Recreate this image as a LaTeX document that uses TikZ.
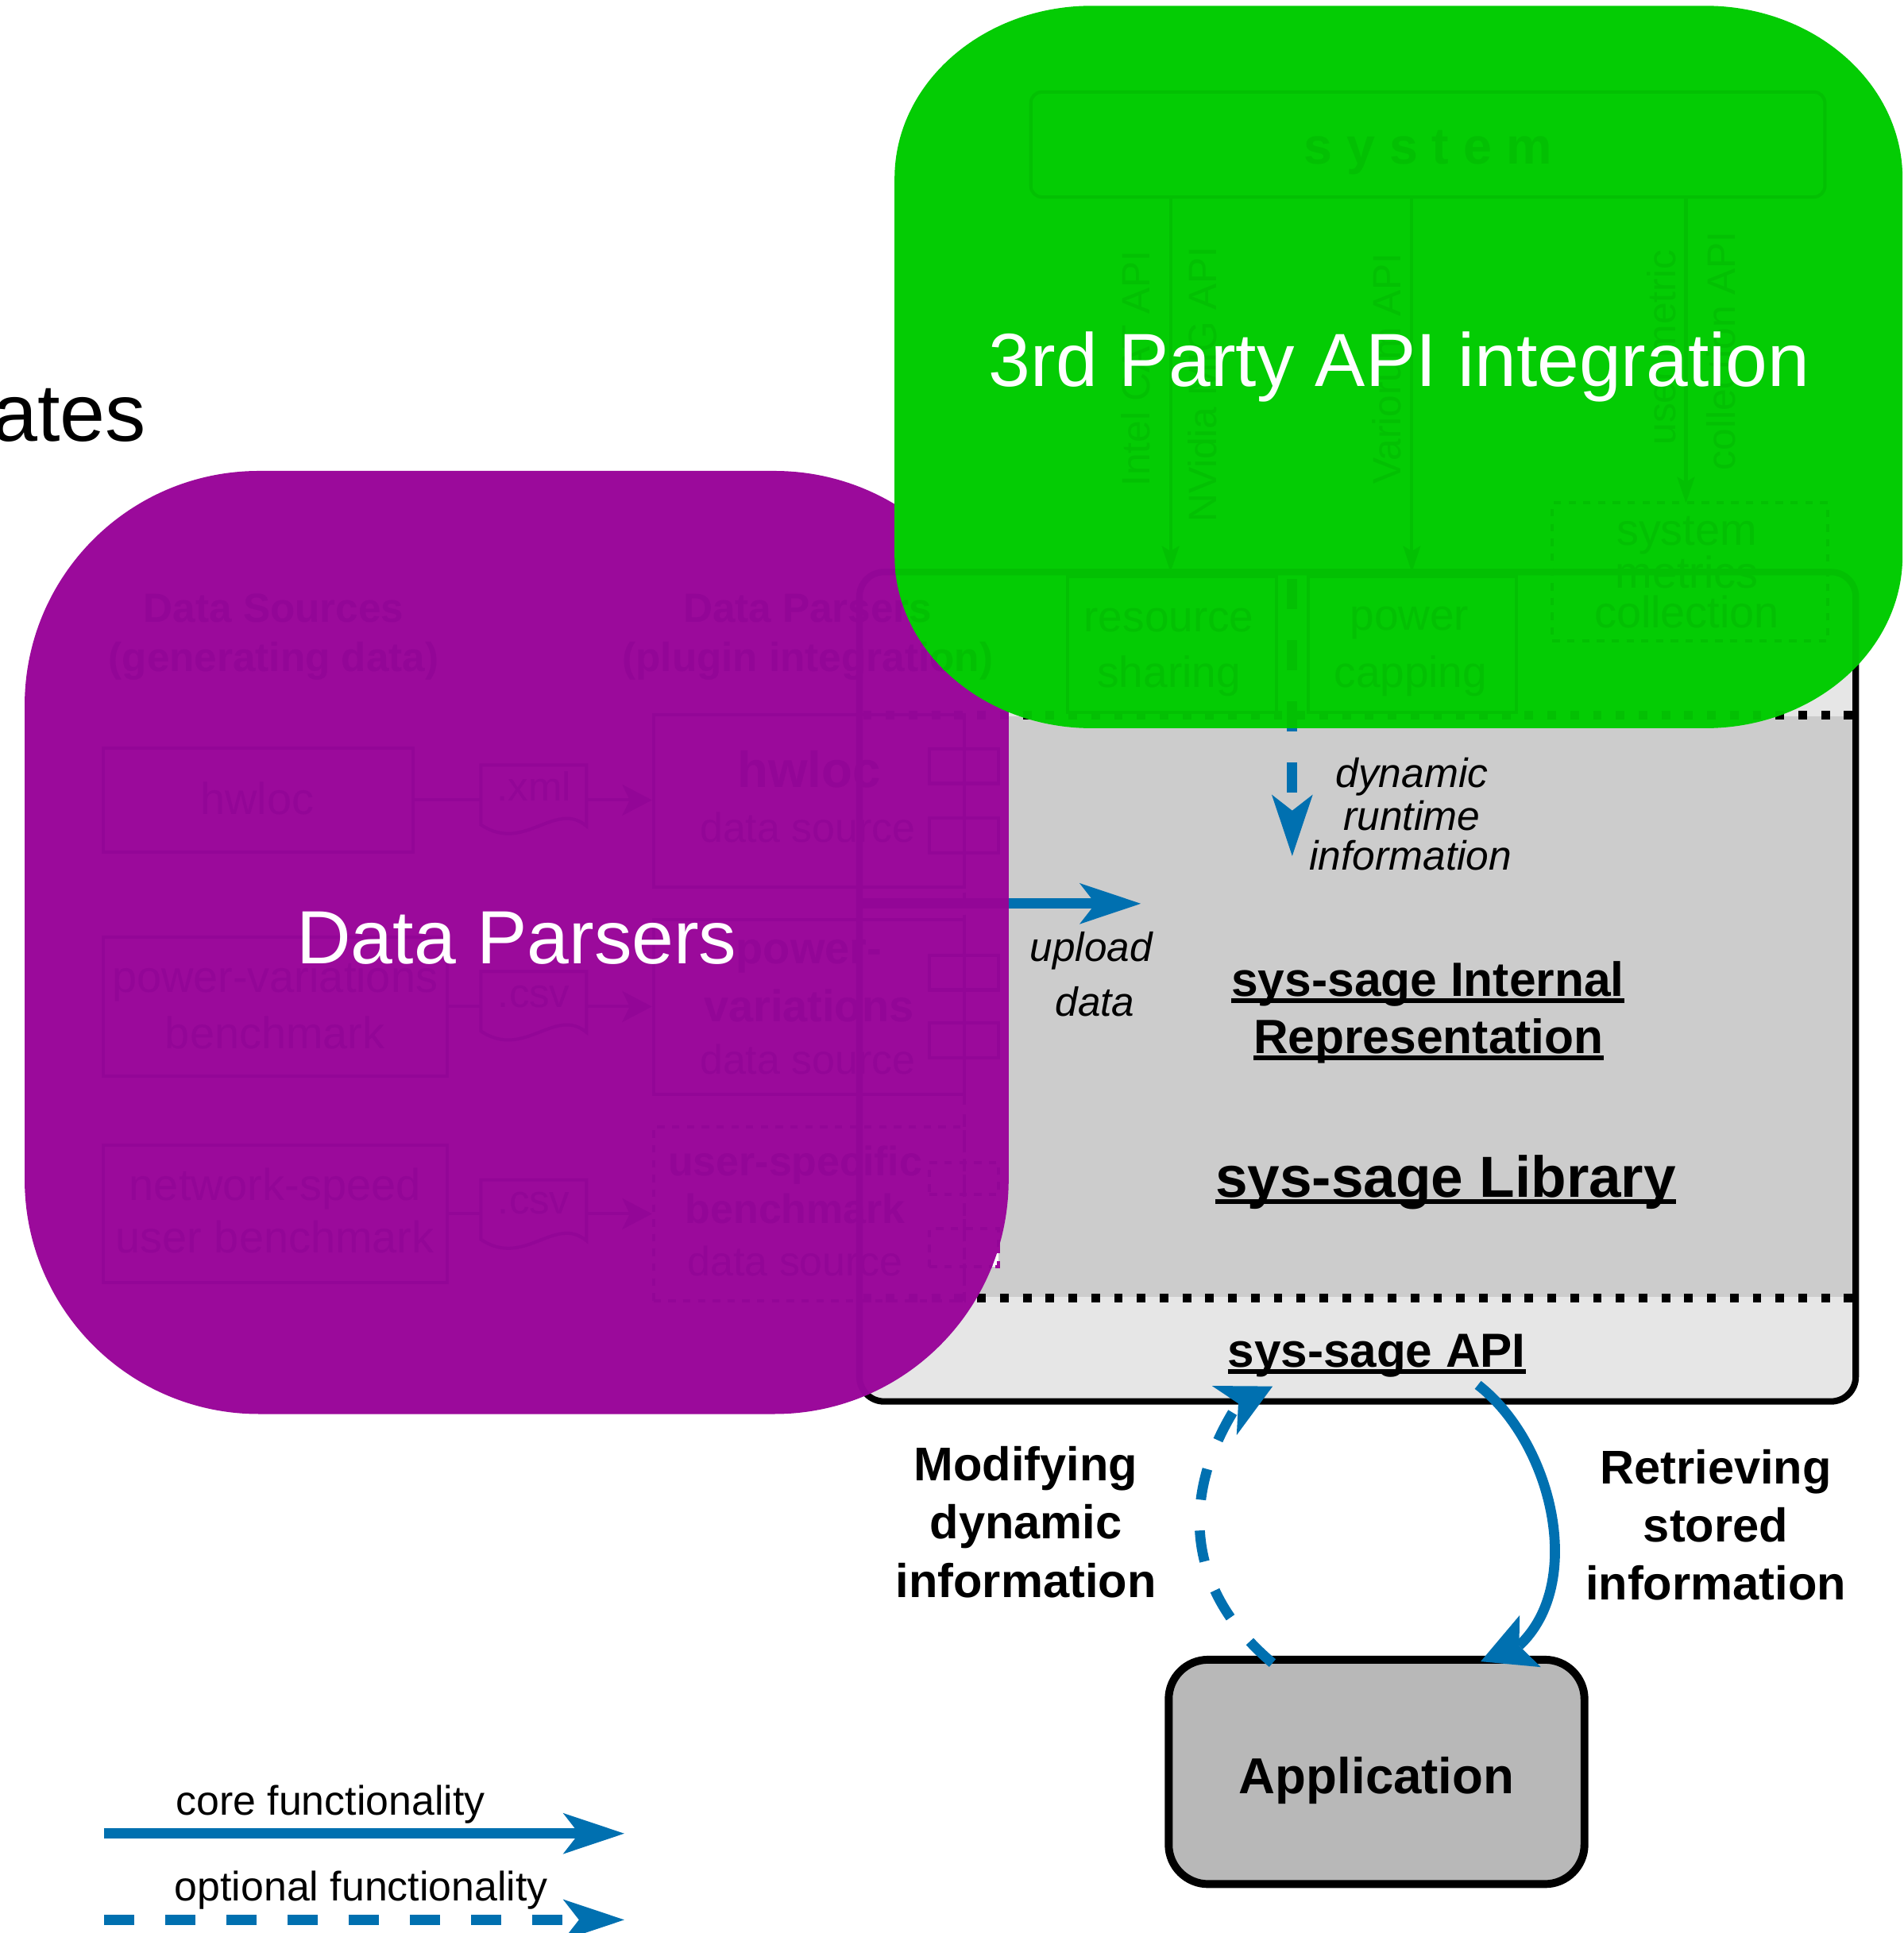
\documentclass[tikz,border=0pt]{standalone}
\usepackage{fontspec}
\setmainfont{Liberation Sans}
\usetikzlibrary{arrows.meta}
\definecolor{pp}{RGB}{155,10,155}
\definecolor{fadeP}{RGB}{147,6,151}
\definecolor{gg}{RGB}{4,204,4}
\definecolor{fadeG}{RGB}{3,192,3}
\definecolor{bl}{RGB}{0,112,176}
\definecolor{gmid}{RGB}{204,204,204}
\definecolor{glight}{RGB}{230,230,230}
\definecolor{gapp}{RGB}{184,184,184}
\newcommand\fsz[1]{\fontsize{#1pt}{#1pt}\selectfont}
\newcommand\myul[1]{\setbox0=\hbox{#1}\leavevmode\rlap{\vrule width \wd0 height -0.9pt depth 2.7pt}\box0}

\newcommand\hiddenlayer[2]{%
\begin{scope}[color=#1]
\draw[line width=2.6pt, rounded corners=10pt] (697,464) rectangle (1505,1136.8);
\draw[dotline] (700,580) -- (1502,580);
\draw[dotline] (700,1053) -- (1502,1053);
\draw[hl, dash pattern=on 5pt off 4pt] (782,580) -- (782,1053);
\draw[core, #1] (upS) -- (upE);
\draw[opt, #1] (dynS) -- (dynE);
% data sources / parsers
\node[hb] (hs1#2) at (222,504.6) {Data Sources};
\node[hb] (hs2#2) at (222,544.5) {(generating data)};
\node[hb] (hp1#2) at (655,504.6) {Data Parsers};
\node[hb] (hp2#2) at (655,544.5) {(plugin integration)};
\node[hbox, minimum width=125.5pt, minimum height=42pt] (s1#2) at (209.5,649) {};
\node[hr] (s1t#2) at (208.5,660.5) {hwloc};
\node[hbox, minimum width=139.35pt, minimum height=56.5pt] (s2#2) at (223.35,816.5) {};
\node[hr] (s2a#2) at (223,805) {power-variations};
\node[hr] (s2b#2) at (223,850.6) {benchmark};
\node[hbox, minimum width=139.35pt, minimum height=55.8pt] (s3#2) at (223.35,984.6) {};
\node[hr] (s3a#2) at (223,974) {network-speed};
\node[hr] (s3b#2) at (223,1016) {user benchmark};
\pic at (390,620.6) {docp};
\pic at (390,788) {docp};
\pic at (390,957) {docp};
\node[hd] (d1t#2) at (433,649.7) {.xml};
\node[hd] (d2t#2) at (433,817) {.csv};
\node[hd] (d3t#2) at (433,984.6) {.csv};
\coordinate (d1w#2) at (390,649); \coordinate (d1e#2) at (475.6,649);
\coordinate (d2w#2) at (390,816.5); \coordinate (d2e#2) at (475.6,816.5);
\coordinate (d3w#2) at (390,984.6); \coordinate (d3e#2) at (475.6,984.6);
\node[hbox, minimum width=126pt, minimum height=69.8pt] (p1#2) at (656,649.8) {};
\node[hbox, minimum width=126pt, minimum height=71pt] (p2#2) at (656,817) {};
\node[hbox, dashed, minimum width=126pt, minimum height=70.5pt] (p3#2) at (656,984.5) {};
\draw[hl] (s1#2.east) -- (d1w#2);
\draw[hl, harr] (d1e#2) -- (p1#2.west |- d1e#2);
\draw[hl] (s2#2.east) -- (d2w#2);
\draw[hl, harr] (d2e#2) -- (p2#2.west |- d2e#2);
\draw[hl] (s3#2.east) -- (d3w#2);
\draw[hl, harr] (d3e#2) -- (p3#2.west |- d3e#2);
\node[hb, font=\bfseries\fsz{20.5}] (p1a#2) at (656,639) {hwloc};
\node[hd, font=\fsz{16.7}] (p1b#2) at (655,683) {data source};
\node[hb, font=\bfseries\fsz{18}] (p2a#2) at (656,781.8) {power-};
\node[hb, font=\bfseries\fsz{18}] (p2b#2) at (656,829) {variations};
\node[hd, font=\fsz{16.7}] (p2c#2) at (655,871) {data source};
\node[hb, font=\bfseries\fsz{16.7}] (p3a#2) at (645,953.6) {user-specific};
\node[hb, font=\bfseries\fsz{16.7}] (p3b#2) at (645,992.3) {benchmark};
\node[hd, font=\fsz{16.7}] (p3c#2) at (645,1035) {data source};
\node[hbox, minimum width=28pt, minimum height=14pt] (q1#2) at (782,621.5) {};
\node[hbox, minimum width=28pt, minimum height=14pt] (q2#2) at (782,677.6) {};
\node[hbox, minimum width=28pt, minimum height=14pt] (q3#2) at (782,789) {};
\node[hbox, minimum width=28pt, minimum height=14pt] (q4#2) at (782,844) {};
\node[hbox, dashed, minimum width=28pt, minimum height=13pt] (q5#2) at (782,955.8) {};
\node[hbox, dashed, minimum width=28pt, minimum height=15.5pt] (q6#2) at (782,1012.2) {};
% system part
\node[hbox, rounded corners=4.5pt, minimum width=322pt, minimum height=42.6pt] (sys#2) at (1158,117.2) {};
\node[hb, font=\bfseries\fsz{20.8}] (syst#2) at (1158,133.2) {s y s t e m};
\node[hbox, minimum width=84.5pt, minimum height=55pt] (rs#2) at (950.5,523) {};
\node[hbox, minimum width=84.5pt, minimum height=55pt] (pc#2) at (1145.5,523) {};
\node[hbox, dashed, minimum width=111.8pt, minimum height=55.9pt] (mc#2) at (1370.8,463.9) {};
\coordinate (a1#2) at (949.3,464); \coordinate (a2#2) at (1145,464); \coordinate (a3#2) at (1367.3,408);
\draw[hl, harr2] (sys#2.south -| a1#2) -- (a1#2);
\draw[hl, harr2] (sys#2.south -| a2#2) -- (a2#2);
\draw[hl, harr2] (sys#2.south -| a3#2) -- (a3#2);
\node[rot] (l1#2) at (921,299) {Intel CAT API};
\node[rot] (l2#2) at (975,312) {NVidia MIG API};
\node[rot] (l3#2) at (1124.3,299) {Variorum API};
\node[rot] (l4#2) at (1347.8,282) {user metric};
\node[rot] (l5#2) at (1395.5,284.7) {collection API};
\node[hr, font=\fsz{17.7}] (rs1#2) at (948,512.4) {resource};
\node[hr, font=\fsz{17.7}] (rs2#2) at (948,557.4) {sharing};
\node[hr, font=\fsz{17.7}] (pc1#2) at (1143,511) {power};
\node[hr, font=\fsz{17.7}] (pc2#2) at (1144,557.4) {capping};
\node[hr] (mc1#2) at (1368,442.5) {system};
\node[hr] (mc2#2) at (1368,476.8) {metrics};
\node[hr] (mc3#2) at (1368,509) {collection};
\end{scope}}

\begin{document}
\begin{tikzpicture}[x=0.5pt,y=-0.5pt, every node/.style={inner sep=0pt},
 core/.style={bl, line width=4.2pt, -{Stealth[length=24.5pt,width=16pt,inset=6pt]}},
 opt/.style={core, dash pattern=on 12.3pt off 12.5pt},
 dotline/.style={line width=3.5pt, dash pattern=on 3.5pt off 5.75pt},
 curveline/.style={bl, line width=4.1pt},
 hl/.style={line width=1.3pt},
 hbox/.style={draw, hl},
 hb/.style={anchor=base, font=\bfseries\fsz{16.5}},
 hr/.style={anchor=base, font=\fsz{18}},
 hd/.style={anchor=base, font=\fsz{16.4}},
 rot/.style={rotate=90, font=\fsz{16}},
 harr/.style={-{Stealth[length=12pt,width=12.5pt,inset=3pt]}},
 harr2/.style={-{Stealth[length=10.5pt,width=7pt,inset=2pt]}},
 docp/.pic={\draw[hl] (0,0) -- (85.6,0) -- (85.6,49.4) .. controls (60,28) and (35,72) .. (0,48.4) -- cycle;}
]
\useasboundingbox (0,0) rectangle (1544,1568);
\fill[white] (0,0) rectangle (1544,1568);

% sys-sage library box
\node[draw, line width=2.6pt, fill=glight, rounded corners=10pt, minimum width=404pt, minimum height=336.4pt] (lib) at (1101,800.4) {};
\fill[gmid] (700,581) rectangle (1502,1052);
\draw[dotline] (700,580) -- (1502,580);
\draw[dotline] (700,1053) -- (1502,1053);

\node[anchor=base, font=\bfseries\fsz{19.5}] (ir1) at (1158,808) {\myul{sys-sage Internal}};
\node[anchor=base, font=\bfseries\fsz{19.5}] (ir2) at (1158.5,854.6) {\myul{Representation}};
\node[anchor=base, font=\bfseries\fsz{23.5}] (libt) at (1172.5,971) {\myul{sys-sage Library}};
\node[anchor=base, font=\bfseries\fsz{19.4}] (api) at (1116.5,1108.8) {\myul{sys-sage API}};

\node[anchor=base, font=\itshape\fsz{16.6}] (dr1) at (1145,639) {dynamic};
\node[anchor=base, font=\itshape\fsz{16.6}] (dr2) at (1145,673.4) {runtime};
\node[anchor=base, font=\itshape\fsz{16.6}] (dr3) at (1144,705.6) {information};
\node[anchor=base, font=\itshape\fsz{16.5}] (ud1) at (885,780) {upload};
\node[anchor=base, font=\itshape\fsz{16.5}] (ud2) at (888,824) {data};

\coordinate (upS) at (697,733); \coordinate (upE) at (925.5,733);
\draw[core] (upS) -- (upE);
\coordinate (dynS) at (1048,469.8); \coordinate (dynE) at (1048,694.6);
\draw[opt] (dynS) -- (dynE);

% parser ports peeking out
\draw[pp, fill=white, line width=1.3pt, dash pattern=on 4pt off 3pt] (754,943) rectangle (810,968.6);
\draw[pp, fill=white, line width=1.3pt, dash pattern=on 4pt off 3pt] (754,996.6) rectangle (810,1027.7);

% application
\node[draw, line width=3.2pt, fill=gapp, rounded corners=16pt, minimum width=168.6pt, minimum height=91pt] (app) at (1116.4,1437.3) {};
\node[anchor=base, font=\bfseries\fsz{20.5}] (appt) at (1116.5,1455) {Application};

% modifying (optional, dashed) : application -> API
\coordinate (mS) at (1032,1349); \coordinate (mN) at (1004.2,1138.5);
\coordinate (mN2) at (1006.2,1137.5); \coordinate (mE) at (1032.2,1124.5);
\draw[curveline, dash pattern=on 12.7pt off 12.5pt] (mS) .. controls (963,1291) and (955.2,1214.1) .. (mN);
\draw[curveline, -{Stealth[length=21.6pt,width=21.7pt,inset=6pt]}] (mN2) -- (mE);
% retrieving (core) : API -> application
\coordinate (rS) at (1198.6,1123.4); \coordinate (rN) at (1231.9,1335);
\coordinate (rN2) at (1230,1335.8); \coordinate (rE) at (1200.7,1347.8);
\draw[curveline] (rS) .. controls (1258,1169.2) and (1286.6,1283.7) .. (rN);
\draw[curveline, -{Stealth[length=21.4pt,width=21.9pt,inset=4.5pt]}] (rN2) -- (rE);

\node[anchor=base, font=\bfseries\fsz{19.2}] (mo1) at (832,1201) {Modifying};
\node[anchor=base, font=\bfseries\fsz{19.2}] (mo2) at (832,1248) {dynamic};
\node[anchor=base, font=\bfseries\fsz{19.2}] (mo3) at (832,1296) {information};
\node[anchor=base, font=\bfseries\fsz{19.2}] (re1) at (1391.5,1203.4) {Retrieving};
\node[anchor=base, font=\bfseries\fsz{19.2}] (re2) at (1391.5,1250.8) {stored};
\node[anchor=base, font=\bfseries\fsz{19.2}] (re3) at (1391.5,1297.6) {information};

% legend
\node[anchor=base, font=\fsz{16.7}] (lgc) at (268,1472.4) {core functionality};
\coordinate (lc1) at (84.3,1487.3); \coordinate (lc2) at (506.6,1487.3);
\draw[core] (lc1) -- (lc2);
\node[anchor=base, font=\fsz{16.7}] (lgo) at (293,1542) {optional functionality};
\coordinate (lo1) at (84.3,1557.3); \coordinate (lo2) at (506.6,1557.3);
\draw[opt] (lo1) -- (lo2);

% title fragment
\node[anchor=base east, font=\fsz{33}] (ates) at (119,357.6) {ates};

% purple overlay
\fill[pp, rounded corners=95pt] (20,382) rectangle (818,1147);
\begin{scope}
\clip[rounded corners=95pt] (20,382) rectangle (818,1147);
\hiddenlayer{fadeP}{p}
\end{scope}
\node[anchor=base, text=white, font=\fsz{30.6}] (dp) at (419,782) {Data Parsers};

% green overlay
\fill[gg] (725.5,144.7) .. controls (725.5,67.4) and (797.2,4.7) .. (885.5,4.7) -- (1383,4.7)
  .. controls (1471.3,4.7) and (1543,67.4) .. (1543,144.7) -- (1543,450.7)
  .. controls (1543,528) and (1471.3,590.7) .. (1383,590.7) -- (885.5,590.7)
  .. controls (797.2,590.7) and (725.5,528) .. (725.5,450.7) -- cycle;
\begin{scope}
\clip (725.5,144.7) .. controls (725.5,67.4) and (797.2,4.7) .. (885.5,4.7) -- (1383,4.7)
  .. controls (1471.3,4.7) and (1543,67.4) .. (1543,144.7) -- (1543,450.7)
  .. controls (1543,528) and (1471.3,590.7) .. (1383,590.7) -- (885.5,590.7)
  .. controls (797.2,590.7) and (725.5,528) .. (725.5,450.7) -- cycle;
\hiddenlayer{fadeG}{g}
\end{scope}
\node[anchor=base, text=white, font=\fsz{30.55}] (tp) at (1134.8,313.3) {3rd Party API integration};
\end{tikzpicture}
\end{document}
